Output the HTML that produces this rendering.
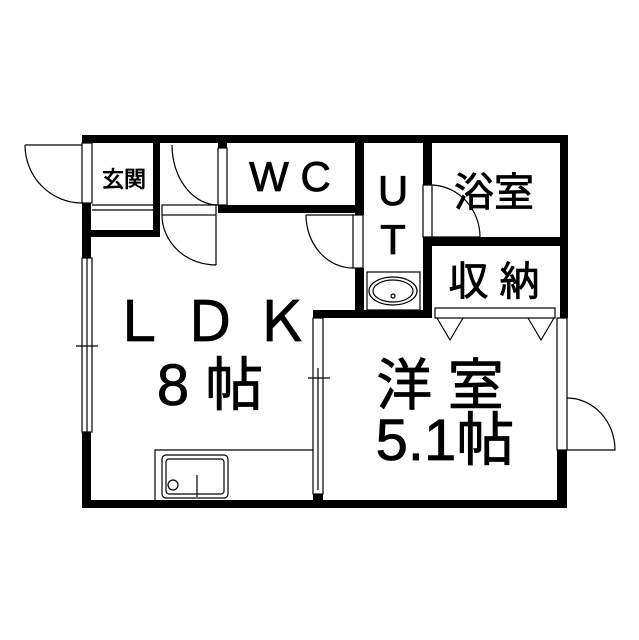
<!DOCTYPE html>
<html><head><meta charset="utf-8"><style>
html,body{margin:0;padding:0;background:#fff;}
svg{display:block;}
text{font-family:"Liberation Sans","Noto Sans CJK JP",sans-serif;fill:#000;stroke:#000;stroke-width:0.8;}
</style></head><body>
<svg width="639" height="640" viewBox="0 0 639 640" xmlns="http://www.w3.org/2000/svg">
<rect width="639" height="640" fill="#fff"/>
<g fill="#000">
<rect x="82" y="135" width="486" height="8"/>
<rect x="560" y="135" width="8" height="183"/>
<rect x="82" y="500" width="485" height="8"/>
<rect x="82" y="203" width="9" height="55"/>
<rect x="82" y="432" width="9" height="76"/>
<rect x="557" y="450" width="10" height="58"/>
<rect x="153" y="135" width="7" height="102"/>
<rect x="82" y="230" width="78" height="7"/>
<rect x="218" y="135" width="9" height="13"/>
<rect x="218" y="205" width="145" height="8"/>
<rect x="355" y="135" width="9" height="80"/>
<rect x="355" y="268" width="9" height="50"/>
<rect x="423" y="135" width="9" height="50"/>
<rect x="423" y="237" width="9" height="81"/>
<rect x="432" y="237" width="128" height="9"/>
<rect x="313" y="310" width="117" height="8"/>
<rect x="313" y="494" width="10" height="8"/>
</g>
<g fill="none" stroke="#000" stroke-width="1.2">
<rect x="82" y="143" width="10" height="60"/>
<path d="M25 145 L82 145 M25 145 A57 58 0 0 0 82 203"/>
<path d="M92 205 L153 205 M92 210 L153 210"/>
<rect x="218" y="148" width="9" height="57"/>
<path d="M172 145 A46 60 0 0 0 218 205"/>
<rect x="162" y="205" width="54" height="10"/>
<path d="M216 215 L216 265 M162 215 A54 50 0 0 0 216 265"/>
<rect x="353" y="215" width="10" height="53"/>
<path d="M306 215 L353 215 M306 215 A47 53 0 0 0 353 268"/>
<rect x="423" y="185" width="9" height="52"/>
<path d="M432 185 A50 52 0 0 1 480 237 L432 237"/>
<rect x="367" y="272" width="53" height="38"/>
<ellipse cx="393" cy="291" rx="24" ry="14"/>
<ellipse cx="393" cy="291" rx="20" ry="11"/>
<circle cx="393" cy="296" r="2"/>
<rect x="435" y="308" width="120" height="10"/>
<path d="M437 318 L450 340 L463 318 M528 318 L541 340 L554 318"/>
<rect x="82" y="258" width="10" height="174"/>
<path d="M87 258 L87 432 M76 346 L98 346"/>
<rect x="313" y="318" width="10" height="176"/>
<path d="M318 368 L318 490 M308 378 L330 378"/>
<rect x="557" y="318" width="10" height="132"/>
<path d="M567 398 A48 52 0 0 1 615 450 L567 450"/>
<path d="M155 500 L155 450 L313 450"/>
<rect x="162" y="455" width="66" height="43" rx="4"/>
<rect x="166" y="459" width="58" height="35" rx="3"/>
<circle cx="173" cy="485" r="5"/>
<path d="M197 475 L197 497"/>
</g>
<text x="124" y="187" font-size="22" text-anchor="middle">玄関</text>
<text x="290" y="191" font-size="42" text-anchor="middle" stroke-width="1.5">W C</text>
<text x="393" y="205" font-size="42" text-anchor="middle">U</text>
<text x="393" y="254" font-size="42" text-anchor="middle">T</text>
<text x="494" y="206" font-size="40" text-anchor="middle">浴室</text>
<text x="494" y="295" font-size="40" text-anchor="middle">収 納</text>
<text x="210" y="341" font-size="56" text-anchor="middle">Ｌ Ｄ Ｋ</text>
<text x="210" y="405" font-size="58" text-anchor="middle">8 帖</text>
<text x="440" y="405" font-size="56" text-anchor="middle">洋 室</text>
<text x="445" y="460" font-size="58" text-anchor="middle">5.1帖</text>
</svg>
</body></html>
